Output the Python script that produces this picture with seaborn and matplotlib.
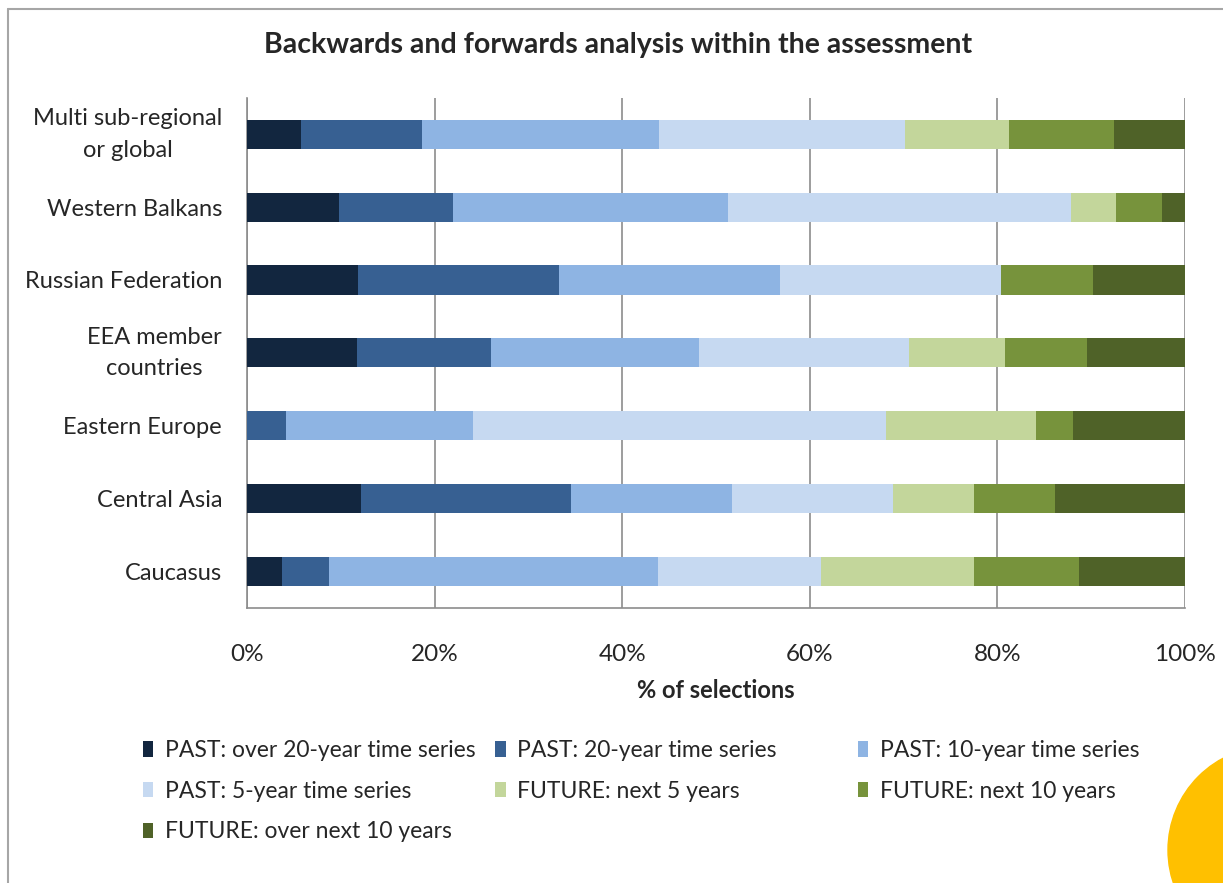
import numpy as np
import pandas as pd
import matplotlib.pyplot as plt
import seaborn as sns
from matplotlib.patches import Patch, Circle
from matplotlib.lines import Line2D
from matplotlib.transforms import IdentityTransform

regions = ['Multi sub-regional\nor global', 'Western Balkans', 'Russian Federation',
           'EEA member\ncountries', 'Eastern Europe', 'Central Asia', 'Caucasus']
series = ['PAST: over 20-year time series', 'PAST: 20-year time series',
          'PAST: 10-year time series', 'PAST: 5-year time series',
          'FUTURE: next 5 years', 'FUTURE: next 10 years', 'FUTURE: over next 10 years']
colors = ['#12263f', '#376092', '#8eb4e3', '#c6d9f1', '#c3d69b', '#77933c', '#4f6228']

# share of selections (%) per region, one list per series
past_over20 = [5.7, 9.8, 11.8, 11.8, 0.0, 12.2, 3.7]
past_20 = [13.0, 12.2, 21.5, 14.3, 4.1, 22.3, 5.0]
past_10 = [25.2, 29.3, 23.5, 22.2, 20.0, 17.2, 35.1]
past_5 = [26.2, 36.6, 23.6, 22.5, 44.0, 17.2, 17.4]
future_5 = [11.1, 4.8, 0.0, 10.3, 16.0, 8.6, 16.3]
future_10 = [11.2, 4.8, 9.8, 8.7, 4.0, 8.6, 11.2]
future_over10 = [7.6, 2.5, 9.8, 10.5, 11.9, 13.9, 11.3]

values = np.array([past_over20, past_20, past_10, past_5, future_5, future_10, future_over10])
values = values / values.sum(axis=0) * 100
cum = values.cumsum(axis=0)

sns.set_style('white')
plt.rcParams['font.family'] = ['Lato', 'DejaVu Sans']

fig = plt.figure(figsize=(12.23, 8.83), dpi=100)
ax = fig.add_axes([0.2020, 0.3120, 0.7669, 0.5770])

# stacked bars: draw cumulative totals from the right-most segment inwards
for k in range(len(series) - 1, -1, -1):
    df = pd.DataFrame({'region': regions, 'value': cum[k]})
    sns.barplot(data=df, x='value', y='region', orient='h', color=colors[k],
                width=0.4, saturation=1, linewidth=0, ax=ax, zorder=3)

ax.set_xlim(0, 100)
ax.set_ylim(6.5, -0.5)
ax.set_xticks(np.arange(0, 101, 20))
ax.set_xticklabels([f'{t}%' for t in range(0, 101, 20)])
ax.grid(axis='x', color='#8c8c8c', linewidth=1.2, zorder=0)
ax.grid(axis='y', visible=False)
for s in ['top', 'right']:
    ax.spines[s].set_visible(False)
for s in ['left', 'bottom']:
    ax.spines[s].set_color('#8c8c8c')
    ax.spines[s].set_linewidth(1.2)

ax.set_yticks(np.arange(-0.5, 7, 1), minor=True)
ax.tick_params(axis='y', which='major', length=0, pad=18, labelsize=17)
ax.tick_params(axis='y', which='minor', length=7, width=1.2, color='#8c8c8c')
ax.tick_params(axis='x', length=7, width=1.2, color='#8c8c8c', pad=19, labelsize=17.5)
for lab in ax.get_yticklabels():
    lab.set_multialignment('center')
    lab.set_linespacing(1.6)
    if '\n' in lab.get_text():
        lab.set_va('center')

ax.set_ylabel('')
ax.set_xlabel('% of selections', fontsize=17, fontweight='bold')
ax.xaxis.set_label_coords(0.5, -0.162)
ax.xaxis.label.set_va('center')
fig.text(0.505, 0.949, 'Backwards and forwards analysis within the assessment',
         ha='center', va='center', fontsize=20.5, fontweight='bold')

# legend, filled row by row in three columns
handles = [Patch(facecolor=c, edgecolor='none') for c in colors]
col_x = [0.117, 0.405, 0.7015]
for j in range(3):
    idx = list(range(j, len(series), 3))
    fig.legend([handles[i] for i in idx], [series[i] for i in idx],
               loc='upper left', bbox_to_anchor=(col_x[j], 0.162),
               bbox_transform=fig.transFigure, frameon=False, fontsize=16.5,
               handlelength=0.45, handleheight=0.65, handletextpad=0.5,
               labelspacing=0.86, borderaxespad=0, borderpad=0)

# chart frame and decoration
fig.add_artist(Line2D([8, 1223], [874, 874], transform=IdentityTransform(), color='#a6a6a6', lw=1.5))
fig.add_artist(Line2D([8, 8], [0, 874], transform=IdentityTransform(), color='#a6a6a6', lw=1.5))
fig.add_artist(Circle((1272, 33), 104, transform=IdentityTransform(), color='#ffc000', zorder=5))

fig.savefig('out.png', dpi=100)
